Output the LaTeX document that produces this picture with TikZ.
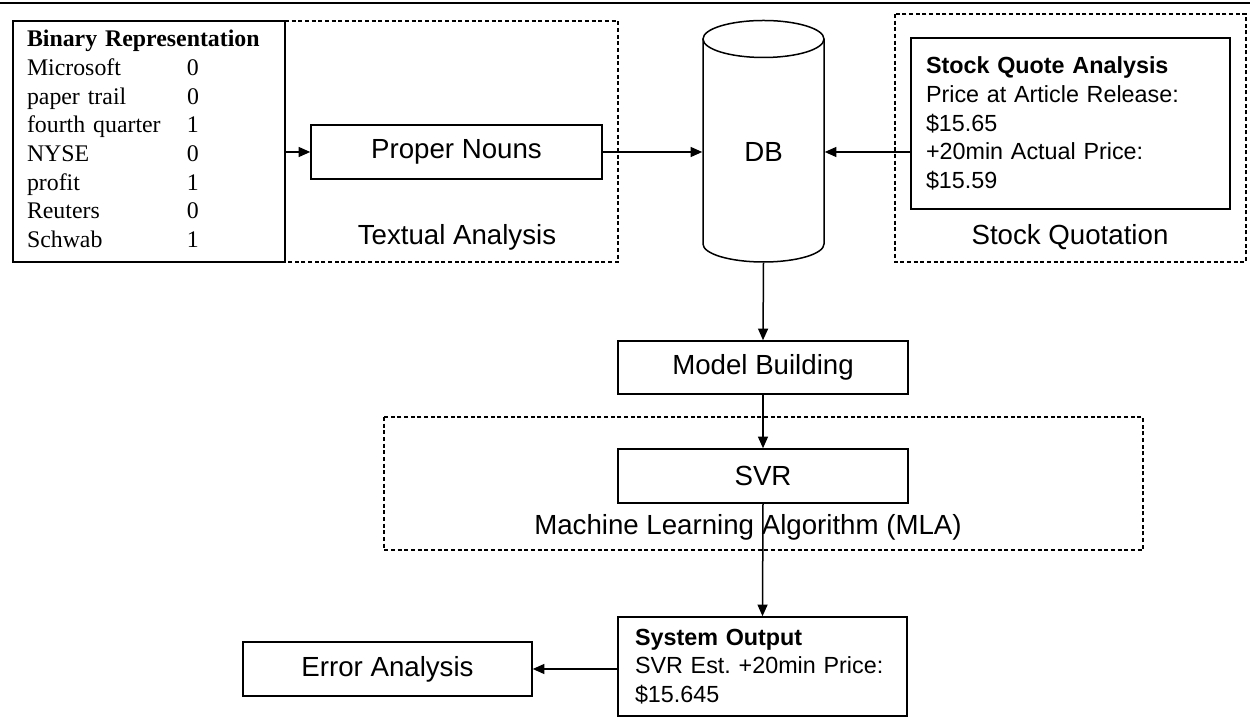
\documentclass[tikz,border=0pt]{standalone}
\usepackage{fontspec}
\setmainfont{Liberation Sans}
\newfontfamily\serifbin{Liberation Serif}
\usetikzlibrary{arrows.meta}
\frenchspacing
\begin{document}
\begin{tikzpicture}[x=0.6pt,y=-0.6pt, line width=0.9pt,
  box/.style={draw, rectangle, inner sep=0pt},
  lbl/.style={font=\fontsize{16.6}{19}\selectfont, inner sep=0pt},
  small/.style={font=\fontsize{14}{17.2}\selectfont},
  grp/.style={draw, dash pattern=on 2.4pt off 1.6pt, line width=0.7pt},
  arr/.style={-{Triangle[length=7pt,width=6pt]}}]
\useasboundingbox (0,0) rectangle (1250,727);
\draw (0,3) -- (1250,3);

% group frames
\draw[grp] (285,21) -- (618,21) -- (618,262) -- (285,262);
\draw[grp] (895,14) rectangle (1246,262);
\draw[grp] (384,417) rectangle (1143,550);

% binary representation
\node[box, minimum width=163.2pt, minimum height=144.6pt, text width=146.4pt,
      inner xsep=8.4pt, inner ysep=0pt, align=left,
      font=\serifbin\fontsize{14.3}{17.2}\selectfont] (bin) at (149,141.5) {%
\begin{tabular}{@{}p{96pt}@{}l@{}}
\multicolumn{2}{@{}l@{}}{\textbf{Binary Representation}}\\
Microsoft & 0\\
paper trail & 0\\
fourth quarter & 1\\
NYSE & 0\\
profit & 1\\
Reuters & 0\\
Schwab & 1
\end{tabular}};

\node[box, lbl, minimum width=174.6pt, minimum height=32.4pt] (pn) at (456.5,152) {Proper Nouns};
\node[lbl] (ta) at (457,237) {Textual Analysis};

% database cylinder
\node[lbl, minimum width=72.6pt, minimum height=132pt] (db) at (763.5,152) {DB};
\draw (824,39) -- (824,244) .. controls (824,253.9) and (796.9,262) .. (763.5,262)
      .. controls (730.1,262) and (703,253.9) .. (703,244) -- (703,39);
\draw (703,39) .. controls (703,49.2) and (730.1,57.5) .. (763.5,57.5)
      .. controls (796.9,57.5) and (824,49.2) .. (824,39)
      .. controls (824,28.8) and (796.9,20.5) .. (763.5,20.5)
      .. controls (730.1,20.5) and (703,28.8) .. (703,39) -- cycle;

% stock quote
\node[box, small, text width=173.4pt, inner xsep=9pt, inner ysep=0pt,
      minimum height=102.6pt, align=left] (sq) at (1070.5,123.5)
  {\textbf{Stock Quote Analysis}\\Price at Article Release:\\\$15.65\\+20min Actual Price:\\\$15.59};
\node[lbl] (sqlabel) at (1070,237) {Stock Quotation};

% model building and SVR
\node[box, lbl, minimum width=174pt, minimum height=31.8pt] (mb) at (763,367.5) {Model Building};
\node[box, lbl, minimum width=174pt, minimum height=32.4pt] (svr) at (763,476) {SVR};
\node[lbl] (mla) at (748,527) {Machine Learning Algorithm (MLA)};

% output and error analysis
\node[box, small, text width=153pt, inner xsep=10.2pt, inner ysep=0pt,
      minimum height=59.4pt, align=left] (so) at (762.5,666.5)
  {\textbf{System Output}\\SVR Est. +20min Price:\\\$15.645};
\node[box, lbl, minimum width=173.4pt, minimum height=32.4pt] (ea) at (387.5,669) {Error Analysis};

% connectors
\draw[arr] (bin.east |- pn) -- (pn.west);
\draw[arr] (pn.east) -- (db.west);
\draw[arr] (sq.west |- db) -- (db.east);
\draw[arr] (db.south) -- (mb.north);
\draw[arr] (mb.south) -- (svr.north);
\draw[arr] (svr.south) -- (so.north);
\draw[arr] (so.west |- ea) -- (ea.east);
\end{tikzpicture}
\end{document}
